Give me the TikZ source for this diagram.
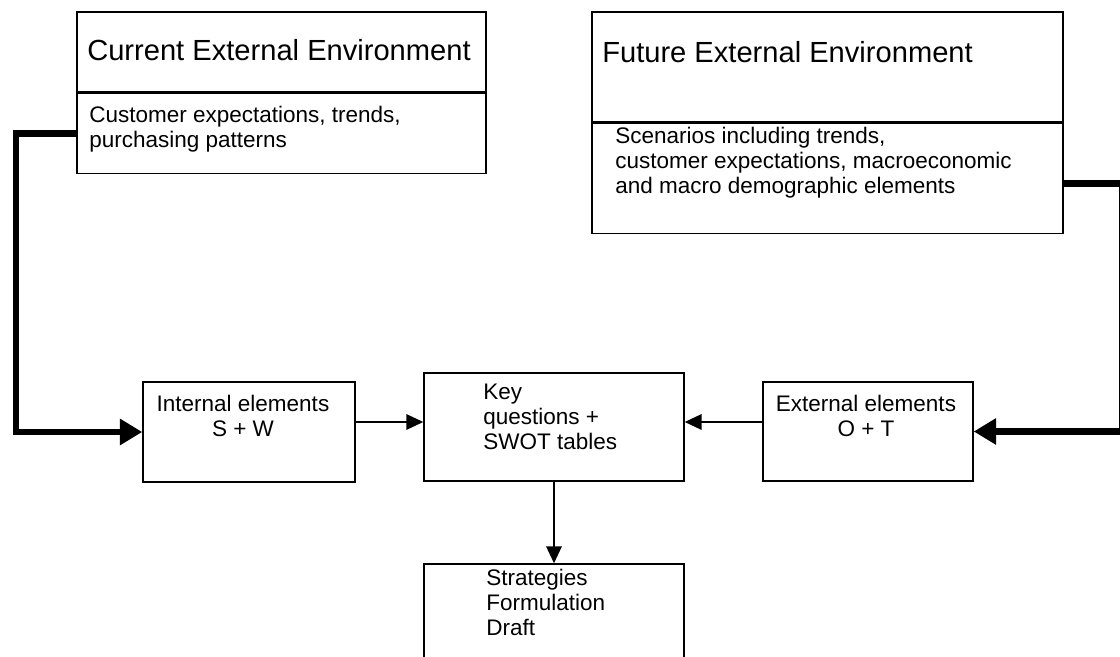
\documentclass[tikz,border=0pt]{standalone}
\usepackage{fontspec}
\setmainfont{Liberation Sans}
\usetikzlibrary{arrows.meta}
\tikzset{
	box/.style={draw, line width=1pt, rectangle, inner sep=0pt},
	head/.style={inner sep=0pt, font=\fontsize{20.7}{24}\selectfont},
	txt/.style={inner sep=0pt, align=left, font=\fontsize{16}{17.9}\selectfont},
	feed/.style={line width=4.8pt, -{Triangle[length=16pt, width=18pt]}},
	flow/.style={line width=1.2pt, -{Triangle[length=12pt, width=11pt]}}
}

\begin{document}
\begin{tikzpicture}[x=0.025cm, y=0.025cm]
			\useasboundingbox (0,0) rectangle (1120,657);
			\clip (0,0) rectangle (1120,657);

			% Draw the environment boxes
			\node[box, minimum width=10.225cm, minimum height=2cm] (curtitle) at (281.5,605) {};
			\node[box, minimum width=10.225cm, minimum height=2cm, anchor=north] (curbody) at (curtitle.south) {};
			\node[box, minimum width=11.775cm, minimum height=2.75cm] (futtitle) at (827.5,590) {};
			\node[box, minimum width=11.775cm, minimum height=2.75cm, anchor=north] (futbody) at (futtitle.south) {};

			% Draw the SWOT boxes
			\node[box, minimum width=5.3cm, minimum height=2.5cm] (intl) at (249,225) {};
			\node[box, minimum width=6.5cm, minimum height=2.7cm] (key) at (554,230) {};
			\node[box, minimum width=5.25cm, minimum height=2.475cm] (extl) at (868,225.5) {};
			\node[box, minimum width=6.5cm, minimum height=3.75cm] (strat) at (554,18) {};

			% Write the texts (base is the last line)
			\node[head, anchor=base west] (curhead) at (87,596) {Current External Environment};
			\node[txt, anchor=base west] (curtext) at (89,509) {Customer expectations, trends,\\purchasing patterns};
			\node[head, anchor=base west] (futhead) at (602,594) {Future External Environment};
			\node[txt, anchor=base west] (futtext) at (615,463) {Scenarios including trends,\\customer expectations, macroeconomic\\and macro demographic elements};
			\node[txt, align=center, anchor=base] (intltext) at (243,220) {Internal elements\\S + W};
			\node[txt, anchor=base west] (keytext) at (483,207) {Key\\questions +\\SWOT tables};
			\node[txt, align=center, anchor=base] (extltext) at (866,220) {External elements\\O + T};
			\node[txt, anchor=base west] (strattext) at (486,21) {Strategies\\Formulation\\Draft};

			% Draw the feeds from the environments
			\coordinate (lbend) at (16,300);
			\coordinate (rbend) at (1122,300);
			\draw[feed] (curbody.west) -| (lbend) |- (intl.west);
			\draw[feed] ([yshift=-1.25mm]futbody.east) -| (rbend) |- (extl.east);

			% Draw the flow through the tables
			\draw[flow] ([yshift=2.5mm]intl.east) -- ([yshift=1.25mm]key.west);
			\draw[flow] ([yshift=2.375mm]extl.west) -- ([yshift=1.25mm]key.east);
			\draw[flow] (key.south) -- (strat.north);
		\end{tikzpicture}
\end{document}
